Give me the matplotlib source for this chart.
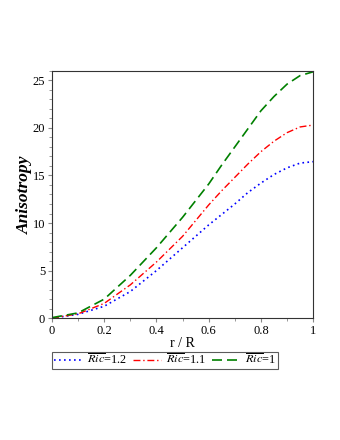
import numpy as np
import matplotlib
matplotlib.use('Agg')
import matplotlib.pyplot as plt
from matplotlib.ticker import MultipleLocator, FormatStrFormatter

plt.rcParams['font.family'] = 'Liberation Serif'
plt.rcParams['mathtext.fontset'] = 'stix'

# radial coordinate r/R
r = [0.0, 0.1, 0.2, 0.3, 0.4, 0.5, 0.6, 0.65, 0.7, 0.75, 0.8, 0.85, 0.9, 0.95, 1.0]
# anisotropy for each Ric value
aniso_12 = [0.0, 0.4, 1.25, 2.8, 5.0, 7.4, 9.8, 10.9, 12.0, 13.2, 14.2, 15.1, 15.8, 16.3, 16.45]
aniso_11 = [0.0, 0.45, 1.55, 3.5, 5.9, 8.6, 11.9, 13.4, 14.8, 16.2, 17.5, 18.6, 19.5, 20.1, 20.3]
aniso_10 = [0.05, 0.55, 2.0, 4.5, 7.4, 10.6, 14.1, 16.1, 18.0, 19.9, 21.8, 23.3, 24.6, 25.5, 25.9]
labels = [r'$\overline{Ric}$=1.2', r'$\overline{Ric}$=1.1', r'$\overline{Ric}$=1']

fig = plt.figure(figsize=(3.4, 4.4), dpi=100)
ax = fig.add_axes([0.153, 0.277, 0.768, 0.562])

ax.plot(r, aniso_12, color='blue', ls=(0, (1, 2)), lw=1.2, label=labels[0])
ax.plot(r, aniso_11, color='red', ls=(0, (5, 2, 1, 2)), lw=1.0, label=labels[1])
ax.plot(r, aniso_10, color='green', ls=(0, (6, 3)), lw=1.2, label=labels[2])

ax.set_xlim(0, 1)
ax.set_ylim(0, 26)
ax.xaxis.set_major_locator(MultipleLocator(0.2))
ax.xaxis.set_minor_locator(MultipleLocator(0.1))
ax.yaxis.set_major_locator(MultipleLocator(5))
ax.yaxis.set_minor_locator(MultipleLocator(1))
ax.xaxis.set_major_formatter(FormatStrFormatter('%g'))
ax.tick_params(which='both', direction='out', color='#888888', labelsize=9, pad=2)
ax.tick_params(which='major', length=3)
ax.tick_params(which='minor', length=2)
for s in ax.spines.values():
    s.set_color('#333333')

ax.set_xlabel('r / R', fontsize=10, labelpad=0)
ax.set_ylabel('Anisotropy', fontsize=12.5, fontweight='bold', fontstyle='italic', labelpad=-0.5)

leg = ax.legend(loc='upper left', bbox_to_anchor=(0.0, -0.135), ncol=3, fontsize=8.8,
                frameon=True, fancybox=False, edgecolor='#333333', handlelength=2.3,
                handletextpad=0.4, columnspacing=0.5, borderpad=0.15, borderaxespad=0)
leg.get_frame().set_linewidth(0.8)

fig.savefig('out.png', dpi=100)
